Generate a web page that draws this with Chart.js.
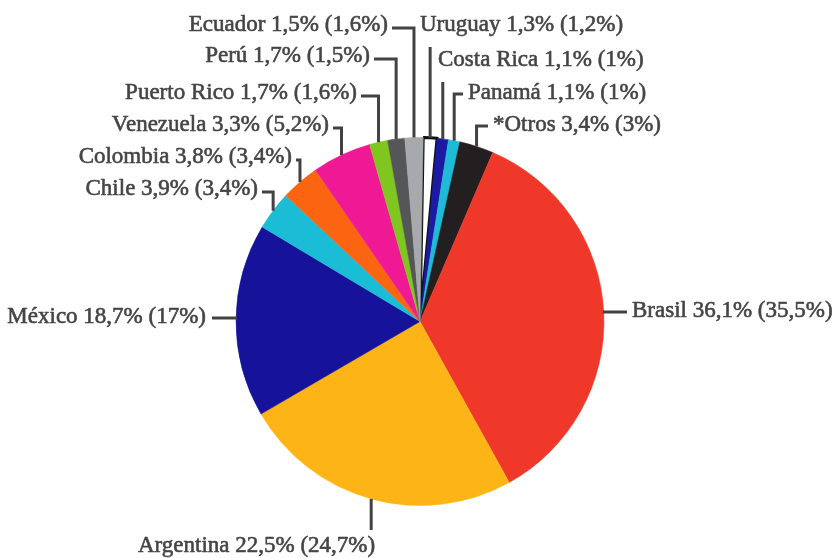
<!DOCTYPE html>
<html>
<head>
<meta charset="utf-8">
<script src="https://cdn.jsdelivr.net/npm/chart.js@4/dist/chart.umd.min.js"></script>
<style>
  html, body { margin: 0; padding: 0; background: #ffffff; }
  #wrap { width: 840px; height: 558px; }
</style>
</head>
<body>
<div id="wrap"><canvas id="chart" width="840" height="558"></canvas></div>
<script>
// Slices run clockwise from the top.
const countries = ['Uruguay', 'Costa Rica', 'Panamá', '*Otros', 'Brasil', 'Argentina', 'México',
                   'Chile', 'Colombia', 'Venezuela', 'Puerto Rico', 'Perú', 'Ecuador'];
// First figure in each label
const shareMain = [1.3, 1.1, 1.1, 3.4, 36.1, 22.5, 18.7, 3.9, 3.8, 3.3, 1.7, 1.7, 1.5];
// Figure in brackets; the slices are sized from it
const shareBracket = [1.2, 1, 1, 3, 35.5, 24.7, 17, 3.4, 3.4, 5.2, 1.6, 1.5, 1.6];

const sliceColors = ['#ffffff', '#1c1aa3', '#1fbad8', '#231f20', '#ef3829', '#fdb416', '#16139a',
                     '#1bbcd5', '#fb6410', '#ef1895', '#7fc61f', '#545658', '#a7a9ac'];

// Label placement: text anchor (x, y), alignment and leader style.
const labelLayout = [
  { name: 'Ecuador',     x: 388, y: 25,  align: 'right', kind: 'bracketLeft' },
  { name: 'Uruguay',     x: 420, y: 25,  align: 'left',  kind: 'under' },
  { name: 'Perú',        x: 370, y: 56,  align: 'right', kind: 'bracketLeft' },
  { name: 'Costa Rica',  x: 438, y: 60,  align: 'left',  kind: 'under' },
  { name: 'Puerto Rico', x: 357, y: 93,  align: 'right', kind: 'bracketLeft' },
  { name: 'Panamá',      x: 468, y: 93,  align: 'left',  kind: 'bracketRight' },
  { name: 'Venezuela',   x: 329, y: 125, align: 'right', kind: 'bracketLeft' },
  { name: '*Otros',      x: 493, y: 125, align: 'left',  kind: 'bracketRight' },
  { name: 'Colombia',    x: 292, y: 157, align: 'right', kind: 'bracketLeft' },
  { name: 'Chile',       x: 258, y: 189, align: 'right', kind: 'bracketLeft' },
  { name: 'México',      x: 206, y: 317, align: 'right', kind: 'sideLeft' },
  { name: 'Brasil',      x: 632, y: 311, align: 'left',  kind: 'sideRight' },
  { name: 'Argentina',   x: 0,   y: 546, align: 'right', kind: 'below' }
];

const TEXT_COLOR = '#454545';
const LINE_COLOR = '#424242';
const fmt = v => String(v).replace('.', ',') + '%';

const leaderPlugin = {
  id: 'leaderLabels',
  afterDraw(chart) {
    const ctx = chart.ctx;
    const meta = chart.getDatasetMeta(0);
    ctx.save();
    ctx.font = '23px "Liberation Serif", "Times New Roman", serif';
    ctx.fillStyle = TEXT_COLOR;
    ctx.textBaseline = 'middle';

    labelLayout.forEach(l => {
      const i = countries.indexOf(l.name);
      const arc = meta.data[i];
      const mid = (arc.startAngle + arc.endAngle) / 2;
      const r = arc.outerRadius;
      const cx = arc.x, cy = arc.y;
      const ax = cx + r * Math.cos(mid);
      const ay = cy + r * Math.sin(mid);
      const text = countries[i] + ' ' + fmt(shareMain[i]) + ' (' + fmt(shareBracket[i]) + ')';

      let tx = l.x;
      ctx.strokeStyle = LINE_COLOR;
      ctx.lineWidth = 3;
      ctx.lineCap = 'butt';
      ctx.lineJoin = 'miter';
      ctx.beginPath();
      if (l.kind === 'bracketLeft') {
        const ly = l.y + 3;
        ctx.moveTo(l.x + 4, ly);
        ctx.lineTo(ax, ly);
        ctx.lineTo(ax, ay);
      } else if (l.kind === 'bracketRight') {
        const ly = l.y + 1;
        ctx.moveTo(l.x - 5, ly);
        ctx.lineTo(ax, ly);
        ctx.lineTo(ax, ay);
      } else if (l.kind === 'under') {
        ctx.moveTo(ax, l.y + 22);
        ctx.lineTo(ax, ay);
      } else if (l.kind === 'sideLeft') {
        const ly = l.y + 1;
        const rimX = cx - Math.sqrt(r * r - (ly - cy) * (ly - cy));
        ctx.moveTo(l.x + 6, ly);
        ctx.lineTo(rimX + 1, ly);
      } else if (l.kind === 'sideRight') {
        const ly = l.y + 1;
        const rimX = cx + Math.sqrt(r * r - (ly - cy) * (ly - cy));
        ctx.moveTo(rimX - 1, ly);
        ctx.lineTo(l.x - 5, ly);
      } else if (l.kind === 'below') {
        ctx.moveTo(ax, ay);
        ctx.lineTo(ax, l.y - 16);
        tx = ax + 4;
      }
      ctx.stroke();

      // Slightly heavier text: fill plus a hairline outline in the same colour
      ctx.textAlign = l.align;
      ctx.fillText(text, tx, l.y);
      ctx.strokeStyle = TEXT_COLOR;
      ctx.lineWidth = 0.6;
      ctx.lineJoin = 'round';
      ctx.strokeText(text, tx, l.y);
    });
    ctx.restore();
  }
};

new Chart(document.getElementById('chart'), {
  type: 'pie',
  data: {
    labels: countries,
    datasets: [{
      data: shareBracket,
      backgroundColor: sliceColors,
      borderColor: countries.map((c, i) => i === 0 ? '#111111' : sliceColors[i]),
      borderWidth: countries.map((c, i) => i === 0 ? 3 : 0.5),
      borderAlign: 'center',
      borderJoinStyle: 'miter',
      hoverOffset: 0,
      offset: 0
    }]
  },
  options: {
    responsive: false,
    animation: false,
    rotation: 1,
    layout: { padding: { top: 136, bottom: 51, left: 234, right: 234 } },
    plugins: {
      legend: { display: false },
      tooltip: { enabled: false }
    },
    events: []
  },
  plugins: [leaderPlugin]
});
</script>
</body>
</html>
